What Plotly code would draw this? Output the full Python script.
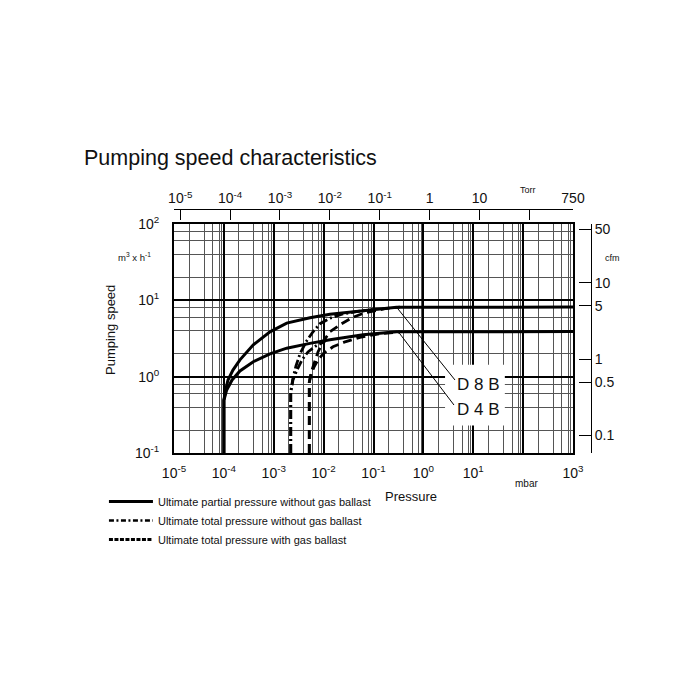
import plotly.graph_objects as go
import numpy as np

# ---------------- data (mbar, m3/h) ----------------
d8b_p = [1e-4, 1e-4, 1.08e-4, 1.21e-4, 1.52e-4, 2.10e-4, 3.89e-4, 8.41e-4, 1.82e-3, 5.33e-3, 0.0134, 0.062, 0.135, 0.29, 1000]
d8b_s = [0.1, 0.49, 0.67, 0.905, 1.22, 1.66, 2.61, 3.87, 5.04, 5.92, 6.58, 7.38, 7.66, 8.14, 8.15]

d4b_p = [1e-4, 1e-4, 1.14e-4, 1.46e-4, 2.10e-4, 3.89e-4, 8.41e-4, 1.82e-3, 5.33e-3, 0.0134, 0.062, 0.29, 1000]
d4b_s = [0.1, 0.49, 0.67, 0.905, 1.19, 1.57, 1.99, 2.36, 2.73, 3.04, 3.54, 3.87, 3.9]

dd8_p = [2.19e-3, 2.19e-3, 2.43e-3, 2.79e-3, 3.36e-3, 4.44e-3, 6.12e-3, 8.45e-3, 0.0134, 0.0233, 0.0446, 0.107]
dd8_s = [0.1, 0.63, 0.96, 1.38, 1.99, 2.86, 3.87, 4.94, 5.83, 6.58, 7.1, 7.6]

dd4_p = [2.19e-3, 2.19e-3, 2.43e-3, 2.92e-3, 3.68e-3, 4.86e-3, 7.03e-3, 0.0107]
dd4_s = [0.1, 0.63, 0.905, 1.22, 1.66, 2.11, 2.53, 2.92]

ds8_p = [5.16e-3, 5.16e-3, 5.58e-3, 6.41e-3, 7.71e-3, 9.70e-3, 0.0134, 0.0213, 0.0371, 0.0676, 0.170, 0.34]
ds8_s = [0.1, 0.85, 1.12, 1.51, 2.11, 2.86, 3.87, 4.79, 5.92, 6.89, 7.78, 8.14]

ds4_p = [5.16e-3, 5.16e-3, 5.58e-3, 6.41e-3, 7.71e-3, 0.0102, 0.0154, 0.0269, 0.0536, 0.135, 0.34]
ds4_s = [0.1, 0.85, 1.05, 1.34, 1.66, 2.05, 2.46, 2.86, 3.28, 3.65, 3.85]

# leader lines (curve point -> label)
lead8_p = [0.29, 4.3]
lead8_s = [8.14, 0.905]
lead4_p = [0.314, 4.11]
lead4_s = [3.88, 0.425]

labels = ["D 8 B", "D 4 B"]
label_p = [4.35, 4.35]
label_s = [0.80, 0.376]

# blank area behind the labels
box_p = [2.72, 43.0]
box_s = [0.23, 1.43]

mbar_ticks = [1e-5, 1e-4, 1e-3, 1e-2, 1e-1, 1, 10, 100, 1000]
mbar_text = ["10<sup>-5</sup>", "10<sup>-4</sup>", "10<sup>-3</sup>", "10<sup>-2</sup>", "10<sup>-1</sup>",
             "10<sup>0</sup>", "10<sup>1</sup>", "", "10<sup>3</sup>"]
speed_ticks = [0.1, 1, 10, 100]
speed_text = ["10<sup>-1</sup>", "10<sup>0</sup>", "10<sup>1</sup>", "10<sup>2</sup>"]
torr_ticks = [1e-5, 1e-4, 1e-3, 1e-2, 1e-1, 1, 10, 100, 750]
torr_text = ["10<sup>-5</sup>", "10<sup>-4</sup>", "10<sup>-3</sup>", "10<sup>-2</sup>", "10<sup>-1</sup>",
             "1", "10", "", "750"]
cfm_ticks = [0.0589, 0.1, 0.5, 1, 5, 10, 50, 58.8]
cfm_text = ["", "0.1", "0.5", "1", "5", "10", "50", ""]

MBAR_TO_TORR = 0.750062
M3H_TO_CFM = 0.588578

minor_x_mult = [2, 4, 6, 8, 9]
minor_y_mult = [2, 4, 6, 8]
minor_x = [m * 10.0 ** k for k in range(-5, 3) for m in minor_x_mult]
minor_y = [m * 10.0 ** k for k in range(-1, 2) for m in minor_y_mult]

FONT = "Arial, Liberation Sans, Helvetica, sans-serif"

fig = go.Figure()

# white box (drawn first, above grid, below curves)
fig.add_trace(go.Scatter(x=[box_p[0], box_p[1], box_p[1], box_p[0], box_p[0]],
                         y=[box_s[0], box_s[0], box_s[1], box_s[1], box_s[0]],
                         mode="lines", fill="toself", fillcolor="white", line=dict(width=0, color="white"),
                         showlegend=False, hoverinfo="skip"))

solid = dict(color="black", width=3)
dashdot = dict(color="black", width=2.8, dash="9px,3px,2px,3px")
dashed = dict(color="black", width=2.8, dash="9px,5px")

for p, s in [(d8b_p, d8b_s), (d4b_p, d4b_s)]:
    fig.add_trace(go.Scatter(x=p, y=s, mode="lines", line=solid, showlegend=False, hoverinfo="skip"))
for p, s in [(dd8_p, dd8_s), (dd4_p, dd4_s)]:
    fig.add_trace(go.Scatter(x=p, y=s, mode="lines", line=dashdot, showlegend=False, hoverinfo="skip"))
for p, s in [(ds8_p, ds8_s), (ds4_p, ds4_s)]:
    fig.add_trace(go.Scatter(x=p, y=s, mode="lines", line=dashed, showlegend=False, hoverinfo="skip"))
for p, s in [(lead8_p, lead8_s), (lead4_p, lead4_s)]:
    fig.add_trace(go.Scatter(x=p, y=s, mode="lines", line=dict(color="black", width=1),
                             showlegend=False, hoverinfo="skip"))

# invisible anchors so the secondary (Torr / cfm) axes are drawn
fig.add_trace(go.Scatter(x=[1.0], y=[1.0], xaxis="x2", yaxis="y", mode="markers",
                         marker=dict(opacity=0), showlegend=False, hoverinfo="skip"))
fig.add_trace(go.Scatter(x=[1.0], y=[1.0], xaxis="x", yaxis="y2", mode="markers",
                         marker=dict(opacity=0), showlegend=False, hoverinfo="skip"))

# legend entries
fig.add_trace(go.Scatter(x=[None], y=[None], mode="lines", line=dict(color="black", width=3),
                         name="Ultimate partial pressure without gas ballast"))
fig.add_trace(go.Scatter(x=[None], y=[None], mode="lines", line=dict(color="black", width=2.5, dash="5px,2.5px,2px,2.5px"),
                         name="Ultimate total pressure without gas ballast"))
fig.add_trace(go.Scatter(x=[None], y=[None], mode="lines", line=dict(color="black", width=3, dash="4px,1.5px"),
                         name="Ultimate total pressure with gas ballast"))

for t, p, s in zip(labels, label_p, label_s):
    fig.add_annotation(x=np.log10(p), y=np.log10(s), xref="x", yref="y", text=t, showarrow=False,
                       xanchor="left", yanchor="middle", font=dict(size=17, color="#111", family=FONT))

XDOM = 399 / 417
YDOM = 229 / 244

fig.update_layout(
    width=700, height=700, autosize=False,
    margin=dict(l=166, r=117, t=201, b=255),
    paper_bgcolor="white", plot_bgcolor="white",
    font=dict(family=FONT, color="#111"),
    xaxis=dict(type="log", domain=[0, XDOM], range=[-5, 3], anchor="y",
               showline=True, mirror=True, linecolor="black", linewidth=2,
               tickvals=mbar_ticks, ticktext=mbar_text, ticks="", tickfont=dict(size=14),
               ticklabelstandoff=6,
               showgrid=True, gridcolor="black", gridwidth=2, zeroline=False,
               minor=dict(tickvals=minor_x, showgrid=True, gridcolor="#555", gridwidth=1, ticks="")),
    yaxis=dict(type="log", domain=[0, YDOM], range=[-1, 2], anchor="x",
               showline=True, mirror=True, linecolor="black", linewidth=2,
               tickvals=speed_ticks, ticktext=speed_text, ticks="", tickfont=dict(size=14),
               ticklabelstandoff=10,
               showgrid=True, gridcolor="black", gridwidth=2, zeroline=False,
               minor=dict(tickvals=minor_y, showgrid=True, gridcolor="#555", gridwidth=1, ticks="")),
    xaxis2=dict(type="log", overlaying="x", side="top", anchor="free", position=1,
                range=[np.log10(1e-5 * MBAR_TO_TORR), np.log10(1000 * MBAR_TO_TORR)],
                showline=True, linecolor="black", linewidth=1, ticks="inside", ticklen=10,
                tickcolor="black", tickwidth=1,
                tickvals=torr_ticks, ticktext=torr_text, tickfont=dict(size=14),
                showgrid=False, zeroline=False),
    yaxis2=dict(type="log", overlaying="y", side="right", anchor="free", position=1,
                range=[np.log10(0.1 * M3H_TO_CFM), np.log10(100 * M3H_TO_CFM)],
                showline=True, linecolor="black", linewidth=1, ticks="inside", ticklen=12,
                tickcolor="black", tickwidth=1,
                tickvals=cfm_ticks, ticktext=cfm_text, tickfont=dict(size=14),
                showgrid=False, zeroline=False),
    legend=dict(x=-0.168, y=-0.139, xanchor="left", yanchor="top", bgcolor="rgba(0,0,0,0)",
                font=dict(size=11, family=FONT), itemwidth=44, tracegroupgap=0),
    showlegend=True,
)

ann = [
    dict(text="Pumping speed characteristics", x=-0.2206, y=1.209, xanchor="left", yanchor="middle", size=21.5),
    dict(text="Pumping speed", x=-0.1535, y=0.504, xanchor="center", yanchor="middle", size=13, angle=-90),
    dict(text="m<sup>3</sup> x h<sup>-1</sup>", x=-0.0959, y=0.803, xanchor="center", yanchor="middle", size=9.5),
    dict(text="cfm", x=1.0504, y=0.799, xanchor="center", yanchor="middle", size=9),
    dict(text="Torr", x=0.849, y=1.078, xanchor="center", yanchor="middle", size=9),
    dict(text="mbar", x=0.8465, y=-0.127, xanchor="center", yanchor="middle", size=10),
    dict(text="Pressure", x=0.568, y=-0.180, xanchor="center", yanchor="middle", size=13),
]
for a in ann:
    fig.add_annotation(text=a["text"], x=a["x"], y=a["y"], xref="paper", yref="paper",
                       xanchor=a["xanchor"], yanchor=a["yanchor"], showarrow=False,
                       textangle=a.get("angle", 0), font=dict(size=a["size"], family=FONT, color="#111"))

fig.write_html("out.html")
